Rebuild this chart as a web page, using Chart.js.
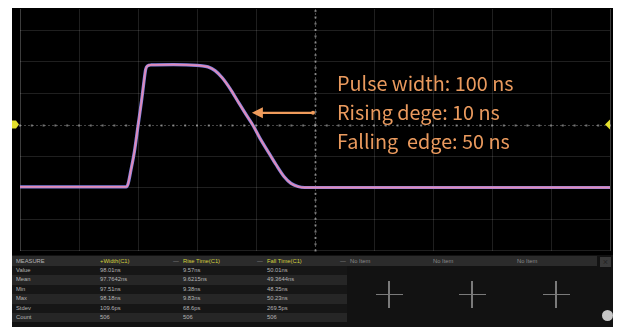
<!DOCTYPE html>
<html>
<head>
<meta charset="utf-8">
<script src="https://cdn.jsdelivr.net/npm/chart.js@4.4.1/dist/chart.umd.min.js"></script>
<style>
  body { margin: 0; background: #fff; width: 619px; height: 328px; overflow: hidden; }
  #scope { position: absolute; left: 12px; top: 8px; width: 601px; height: 319px; background: #000; }
  #plot { position: absolute; left: 0; top: 0; }
  #note { position: absolute; left: 325px; top: 60px; color: #ea9a5e; font-size: 19.8px;
          font-family: "Noto Sans CJK SC", "Noto Sans", sans-serif; line-height: 29px; white-space: pre; }
  #meas { position: absolute; left: 0; top: 247px; width: 601px; height: 72px; background: #121212;
          font-family: "Liberation Sans", Arial, sans-serif; font-size: 5.8px; color: #b4b4b4; }
  #meas div { position: absolute; }
  .cell { white-space: nowrap; }
  .hdr { color: #d3d03c; }
  .dim { color: #8a8a8a; }
</style>
</head>
<body>
<div id="scope">
  <canvas id="plot" width="601" height="245"></canvas>
  <div id="note"></div>
  <div id="meas"></div>
</div>
<script>
// waveform, time in ns (50 ns/div) and level in divisions
const timeNs = [-250, -160, -158.5, -156, -153, -150, -147, -145, -143.5, -142, -139, -120, -100,
  -97.5, -90.7, -84.7, -78.8, -72, -65.3, -58.5, -52.5, -46.6, -39.8, -33.1, -26.3, -20.3, -14.4, -8.5, 250];
const levelDiv = [-1.98, -1.98, -1.9, -1.45, -0.85, -0.05, 0.75, 1.35, 1.75, 1.86, 1.89, 1.9, 1.88,
  1.87, 1.83, 1.71, 1.49, 1.14, 0.73, 0.32, -0.03, -0.44, -0.86, -1.27, -1.65, -1.87, -1.97, -2.0, -2.0];

const xTicks = [-250, -200, -150, -100, -50, 0, 50, 100, 150, 200, 250];
const yTicks = [-4, -3, -2, -1, 0, 1, 2, 3];

const noteLines = ['Pulse width: 100 ns', 'Rising dege: 10 ns', 'Falling  edge: 50 ns'];
const arrowFrom = { x: -1.7, y: 0.37 };
const arrowTo = { x: -53.5, y: 0.37 };

const measHeaders = ['MEASURE', '+Width(C1)', 'Rise Time(C1)', 'Fall Time(C1)', 'No Item', 'No Item', 'No Item'];
const rowLabels = ['Value', 'Mean', 'Min', 'Max', 'Stdev', 'Count'];
const widthVals = ['98.01ns', '97.7642ns', '97.51ns', '98.18ns', '109.6ps', '506'];
const riseVals = ['9.57ns', '9.6215ns', '9.38ns', '9.83ns', '68.6ps', '506'];
const fallVals = ['50.01ns', '49.3644ns', '48.35ns', '50.23ns', '269.5ps', '506'];

const pts = () => timeNs.map((t, i) => ({ x: t, y: levelDiv[i] }));

const scopeDecor = {
    id: 'scopeDecor',
    beforeDatasetsDraw(chart) {
        const { ctx, chartArea: a, scales: { x, y } } = chart;
        const cx = Math.round(x.getPixelForValue(0)) + 0.5;
        const cy = Math.round(y.getPixelForValue(0)) + 0.5;
        ctx.save();
        ctx.strokeStyle = 'rgba(150,150,150,0.45)';
        ctx.lineWidth = 1;
        ctx.setLineDash([2, 2]);
        ctx.beginPath();
        ctx.moveTo(a.left, cy); ctx.lineTo(a.right, cy);
        ctx.moveTo(cx, a.top); ctx.lineTo(cx, a.bottom);
        ctx.stroke();
        ctx.setLineDash([]);
        ctx.fillStyle = 'rgba(190,190,190,0.6)';
        // minor ticks, 5 per division
        for (let v = -250; v <= 250; v += 10) {
            const px = x.getPixelForValue(v);
            ctx.fillRect(px - 1, cy - 1, 2, 2);
        }
        for (let v = -4; v <= 3.7; v += 0.2) {
            const py = y.getPixelForValue(v);
            ctx.fillRect(cx - 1, py - 1, 2, 2);
        }
        ctx.restore();
    },
    afterDatasetsDraw(chart) {
        const { ctx, chartArea: a, scales: { x, y } } = chart;
        const x0 = x.getPixelForValue(arrowFrom.x), y0 = y.getPixelForValue(arrowFrom.y);
        const x1 = x.getPixelForValue(arrowTo.x), y1 = y.getPixelForValue(arrowTo.y);
        ctx.save();
        ctx.strokeStyle = '#f09c5c';
        ctx.fillStyle = '#f09c5c';
        ctx.lineWidth = 2.2;
        ctx.beginPath();
        ctx.moveTo(x0, y0); ctx.lineTo(x1 + 9, y1);
        ctx.stroke();
        ctx.beginPath();
        ctx.moveTo(x1, y1); ctx.lineTo(x1 + 11, y1 - 5.5); ctx.lineTo(x1 + 11, y1 + 5.5);
        ctx.closePath(); ctx.fill();
        ctx.beginPath(); ctx.arc(x0, y0, 2, 0, Math.PI * 2); ctx.fill();

        // channel level markers
        const cy = y.getPixelForValue(0);
        ctx.fillStyle = '#e4e02e';
        ctx.beginPath();
        ctx.moveTo(a.left - 8, cy - 4); ctx.lineTo(a.left - 4, cy - 4); ctx.lineTo(a.left - 1, cy);
        ctx.lineTo(a.left - 4, cy + 4); ctx.lineTo(a.left - 8, cy + 4); ctx.closePath(); ctx.fill();
        ctx.beginPath();
        ctx.moveTo(a.right - 5, cy); ctx.lineTo(a.right, cy - 5); ctx.lineTo(a.right, cy + 5);
        ctx.closePath(); ctx.fill();
        ctx.restore();
    }
};

function gridColor(ctx) {
    const v = ctx.tick && ctx.tick.value;
    if (v === 0) return 'rgba(0,0,0,0)';
    if (v === 250 || v === -250) return 'rgba(200,200,200,0.3)';
    return 'rgba(255,255,255,0.12)';
}

new Chart(document.getElementById('plot'), {
    type: 'line',
    data: {
        datasets: [
            { data: pts(), borderColor: '#e28ab6', borderWidth: 1.8, pointRadius: 0, cubicInterpolationMode: 'monotone', order: 0 },
            { data: pts(), borderColor: '#8183e2', borderWidth: 3.2, pointRadius: 0, cubicInterpolationMode: 'monotone', order: 1 }
        ]
    },
    options: {
        responsive: false,
        animation: false,
        devicePixelRatio: 1,
        layout: { padding: { left: 8, right: 3, top: 1, bottom: 2.5 } },
        plugins: { legend: { display: false }, tooltip: { enabled: false } },
        scales: {
            x: {
                type: 'linear', min: -250, max: 250,
                afterBuildTicks: s => { s.ticks = xTicks.map(v => ({ value: v })); },
                ticks: { display: false },
                grid: { color: gridColor, drawTicks: false },
                border: { display: false }
            },
            y: {
                type: 'linear', min: -4, max: 3.667,
                afterBuildTicks: s => { s.ticks = yTicks.map(v => ({ value: v })); },
                ticks: { display: false },
                grid: { color: gridColor, drawTicks: false },
                border: { display: false }
            }
        }
    },
    plugins: [scopeDecor]
});

document.getElementById('note').textContent = noteLines.join('\n');

// measurement panel
const meas = document.getElementById('meas');
function box(x, y, w, h, bg) {
    const d = document.createElement('div');
    Object.assign(d.style, { left: x + 'px', top: y + 'px', width: w + 'px', height: h + 'px', background: bg });
    meas.appendChild(d);
    return d;
}
function text(x, y, h, str, cls) {
    const d = document.createElement('div');
    d.className = 'cell' + (cls ? ' ' + cls : '');
    Object.assign(d.style, { left: x + 'px', top: y + 'px', height: h + 'px', lineHeight: h + 'px' });
    d.textContent = str;
    meas.appendChild(d);
}
const colX = [4, 88, 171, 255, 338, 421, 505];
const rowH = 9.4, headH = 10, top0 = 11;
box(0, 1, 585, headH, '#2b2b2b');
rowLabels.forEach((lab, i) => {
    const ry = top0 + i * rowH;
    box(0, ry, 335, rowH, i % 2 ? '#262626' : '#161616');
    text(colX[0], ry, rowH, lab);
    text(colX[1], ry, rowH, widthVals[i]);
    text(colX[2], ry, rowH, riseVals[i]);
    text(colX[3], ry, rowH, fallVals[i]);
});
measHeaders.forEach((h, i) => {
    text(colX[i], 1, headH, h, i >= 1 && i <= 3 ? 'hdr' : (i > 3 ? 'dim' : ''));
    if (i >= 2 && i <= 4) text(colX[i] - 10, 1, headH, '\u2014', 'dim');
});
// close button
const cb = box(588, 2, 11, 10, '#3a3a3a');
cb.style.color = '#222'; cb.style.fontSize = '9px'; cb.style.lineHeight = '10px'; cb.style.textAlign = 'center';
cb.textContent = '\u00d7';
// empty slots
[377, 460, 544].forEach(cx => {
    box(cx - 13.5, 38.5, 27, 1.5, '#7a7a7a');
    box(cx - 0.75, 26, 1.5, 27, '#7a7a7a');
});
const dot = box(589.5, 54.5, 11, 11, '#c6c6c6');
dot.style.borderRadius = '50%';
</script>
</body>
</html>
